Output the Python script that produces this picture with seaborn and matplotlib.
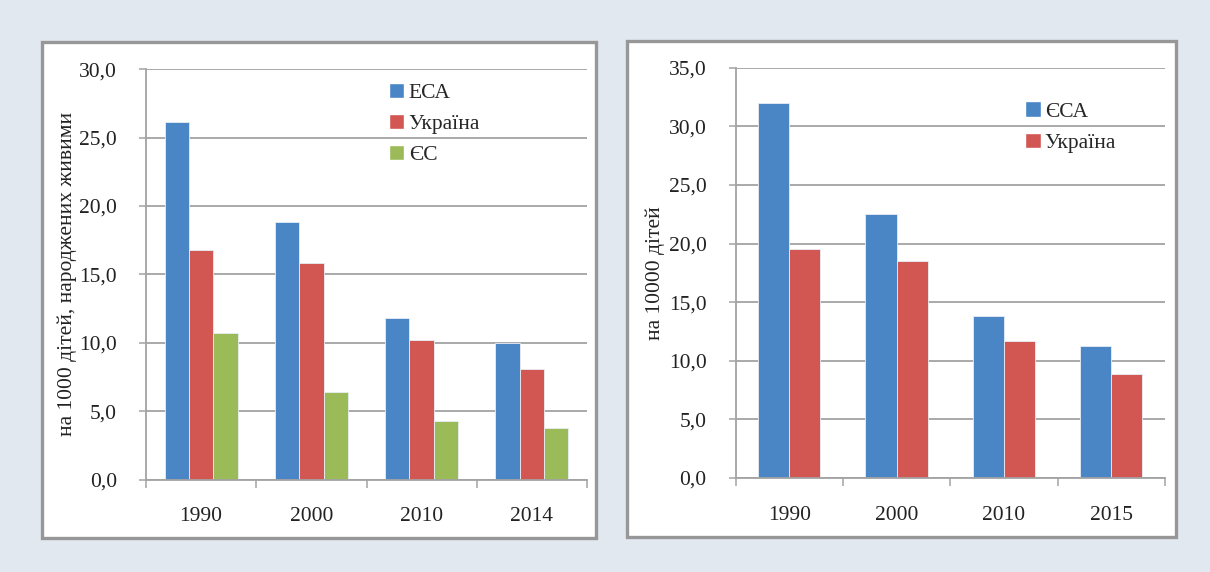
import matplotlib
matplotlib.use("Agg")
import matplotlib.pyplot as plt
from matplotlib.patches import Rectangle, Patch
from matplotlib.ticker import FuncFormatter
import numpy as np
import pandas as pd
import seaborn as sns

# ліва діаграма: на 1000 дітей, народжених живими
years_left = ["1990", "2000", "2010", "2014"]
esa_left = [26.1, 18.8, 11.8, 10.0]
ukr_left = [16.8, 15.8, 10.2, 8.1]
eu_left = [10.7, 6.4, 4.3, 3.8]
names_left = ["ЕСА", "Україна", "ЄС"]

# права діаграма: на 10000 дітей
years_right = ["1990", "2000", "2010", "2015"]
esa_right = [32.0, 22.5, 13.8, 11.3]
ukr_right = [19.5, 18.5, 11.7, 8.9]
names_right = ["ЄСА", "Україна"]

colors = ["#4a86c5", "#d25651", "#9bbb58"]
grid_color = "#a3a3a3"
bg_color = "#e1e8ef"
fs = 15.5

sns.set_style("white")
plt.rcParams["font.family"] = ["Liberation Serif", "DejaVu Serif"]
plt.rcParams["font.size"] = fs


def long_frame(years, series, names):
    rows = []
    for name, vals in zip(names, series):
        for y, v in zip(years, vals):
            rows.append({"year": y, "value": v, "region": name})
    return pd.DataFrame(rows)


def comma_fmt(v, _):
    return f"{v:.1f}".replace(".", ",")


def draw_panel(ax, df, names, width, ymax, ylabel, label_x, leg_xy):
    sns.barplot(data=df, x="year", y="value", hue="region", hue_order=names,
                palette=colors[:len(names)], width=width, saturation=1,
                edgecolor="#e8eef6", linewidth=0.6, ax=ax, legend=False)
    ax.set_xlim(-0.5, 3.5)
    ax.set_ylim(0, ymax)
    ax.set_yticks(np.arange(0, ymax + 1, 5))
    ax.yaxis.set_major_formatter(FuncFormatter(comma_fmt))
    ax.set_xticks(np.arange(-0.5, 4, 1), minor=True)
    ax.yaxis.grid(True, color=grid_color, linewidth=1.3)
    ax.set_axisbelow(True)
    for s in ["top", "right"]:
        ax.spines[s].set_visible(False)
    for s in ["left", "bottom"]:
        ax.spines[s].set_color(grid_color)
        ax.spines[s].set_linewidth(1.3)
    ax.tick_params(axis="y", which="major", left=True, length=5, width=1.1,
                   color=grid_color, pad=16, labelsize=fs, labelcolor="#222222")
    ax.tick_params(axis="x", which="major", length=0, pad=20, labelsize=fs,
                   labelcolor="#222222")
    ax.tick_params(axis="x", which="minor", bottom=True, length=6, width=1.1,
                   color=grid_color)
    ax.set_xlabel("")
    ax.set_ylabel(ylabel, fontsize=fs, color="#222222")
    ax.yaxis.set_label_coords(label_x, 0.5)
    handles = [Patch(facecolor=c) for c in colors[:len(names)]]
    ax.legend(handles, names, loc="upper left", bbox_to_anchor=leg_xy,
              frameon=False, fontsize=fs, borderpad=0, borderaxespad=0,
              handlelength=0.72, handleheight=0.7, handletextpad=0.2,
              labelspacing=0.52)


W, H = 1210, 572
fig = plt.figure(figsize=(W / 100, H / 100), dpi=100)
fig.patch.set_facecolor(bg_color)

# білі панелі з сірою рамкою
for x0, y0, x1, y1 in [(42, 42, 596, 538), (627, 41, 1176, 537)]:
    fig.patches.append(Rectangle((x0 / W, 1 - y1 / H), (x1 - x0) / W, (y1 - y0) / H,
                                 transform=fig.transFigure, facecolor="white",
                                 edgecolor="#979797", linewidth=2.4, zorder=-5))

ax1 = fig.add_axes([146 / W, (H - 479.5) / H, 441 / W, 410.4 / H])
ax2 = fig.add_axes([735.6 / W, (H - 478) / H, 429.4 / W, 410.2 / H])
for a in (ax1, ax2):
    a.set_facecolor("none")
    a.set_zorder(2)

df_left = long_frame(years_left, [esa_left, ukr_left, eu_left], names_left)
df_right = long_frame(years_right, [esa_right, ukr_right], names_right)

draw_panel(ax1, df_left, names_left, 0.66, 30, "на 1000 дітей, народжених живими",
           -0.156, (0.551, 0.967))
draw_panel(ax2, df_right, names_right, 0.58, 35, "на 10000 дітей",
           -0.165, (0.674, 0.918))

fig.savefig("out.png", dpi=100, facecolor=bg_color)
